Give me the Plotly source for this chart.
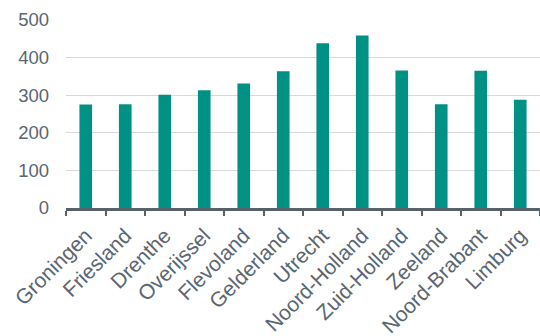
import plotly.graph_objects as go

provinces = ["Groningen", "Friesland", "Drenthe", "Overijssel", "Flevoland", "Gelderland",
             "Utrecht", "Noord-Holland", "Zuid-Holland", "Zeeland", "Noord-Brabant", "Limburg"]
values = [275, 276, 301, 313, 331, 364, 438, 459, 366, 276, 365, 288]
y_ticks = [0, 100, 200, 300, 400, 500]

text_color = "#5a6670"
fig = go.Figure(go.Bar(x=provinces, y=values, marker_color="#009185",
                       marker_line_width=0, width=0.32))
fig.update_layout(
    width=540, height=336,
    margin=dict(l=66, r=0, t=20, b=128),
    plot_bgcolor="white", paper_bgcolor="white",
    font=dict(family="Liberation Sans, Arial", size=18, color=text_color),
    showlegend=False,
)
fig.update_xaxes(type="category", tickangle=-45, tickson="boundaries",
                 ticks="outside", ticklen=5, tickwidth=2, tickcolor="#56626b",
                 showline=True, linecolor="#56626b", linewidth=3,
                 showgrid=False, ticklabelstandoff=4,
                 tickfont=dict(size=21, color=text_color))
fig.update_yaxes(range=[0, 500], tickvals=y_ticks, showgrid=True, gridcolor="#d9d9d9",
                 gridwidth=1, zeroline=False, showline=False, ticks="",
                 ticklabelstandoff=16, tickfont=dict(size=18.5, color=text_color))
fig.write_html("out.html")
